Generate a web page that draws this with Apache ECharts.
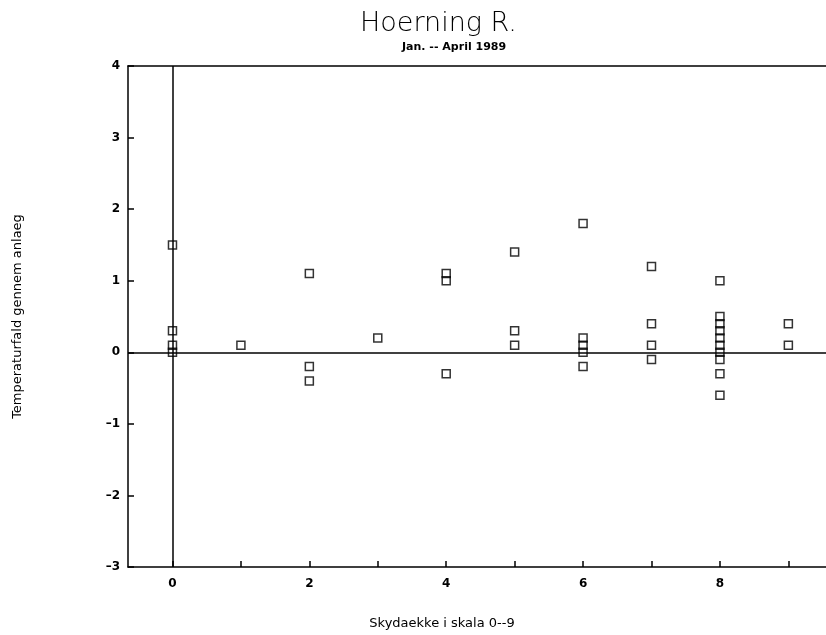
<!DOCTYPE html>
<html>
<head>
<meta charset="utf-8">
<script src="https://cdn.jsdelivr.net/npm/echarts@6/dist/echarts.min.js"></script>
<style>
  html, body { margin: 0; padding: 0; background: #fff; }
  #main { width: 826px; height: 635px; }
</style>
</head>
<body>
<div id="main"></div>
<script>
var myChart = echarts.init(document.getElementById('main'));

// cloud cover (0-9) and temperature drop per observation
var skydaekke = [0, 0, 0, 0, 1, 2, 2, 2, 3, 4, 4, 4, 5, 5, 5,
    6, 6, 6, 6, 6, 7, 7, 7, 7,
    8, 8, 8, 8, 8, 8, 8, 8, 8, 8, 9, 9];
var temperaturfald = [1.5, 0.3, 0.1, 0.0, 0.1, 1.1, -0.2, -0.4, 0.2, 1.1, 1.0, -0.3, 1.4, 0.3, 0.1,
    1.8, 0.2, 0.1, 0.0, -0.2, 1.2, 0.4, 0.1, -0.1,
    1.0, 0.5, 0.4, 0.3, 0.2, 0.1, 0.0, -0.1, -0.3, -0.6, 0.4, 0.1];

var xTicks = [0, 1, 2, 3, 4, 5, 6, 7, 8, 9];
var xLabels = [0, 2, 4, 6, 8];

var points = skydaekke.map(function (x, i) {
    return [x, temperaturfald[i]];
});

var labelFont = {
    color: '#000',
    fontFamily: 'DejaVu Sans',
    fontWeight: 'bold',
    fontSize: 12
};

option = {
    backgroundColor: '#fff',
    animation: false,
    title: [{
        text: 'Hoerning R.',
        left: 355,
        top: 5,
        textStyle: {
            fontFamily: 'DejaVu Sans',
            fontWeight: 'lighter',
            fontSize: 27,
            color: '#000'
        }
    }, {
        text: 'Jan. -- April 1989',
        left: 397,
        top: 37,
        textStyle: {
            fontFamily: 'DejaVu Sans',
            fontWeight: 'bold',
            fontSize: 11,
            color: '#000'
        }
    }],
    grid: {
        left: 128,
        right: 0,
        top: 66,
        bottom: 62
    },
    xAxis: [{
        type: 'value',
        min: -0.65,
        max: 9.55,
        name: 'Skydaekke i skala 0--9',
        nameLocation: 'middle',
        nameGap: 50,
        nameTextStyle: {
            color: '#000',
            fontFamily: 'DejaVu Sans',
            fontSize: 13,
            padding: [0, 70, 0, 0]
        },
        axisLine: { onZero: false, lineStyle: { color: '#000', width: 1.5 } },
        axisTick: {
            inside: true,
            length: 6,
            customValues: xTicks,
            lineStyle: { color: '#000', width: 1.5 }
        },
        axisLabel: Object.assign({ margin: 11, customValues: xLabels }, labelFont),
        splitLine: { show: false }
    }, {
        type: 'value',
        position: 'top',
        min: -0.65,
        max: 9.55,
        axisLine: { show: true, onZero: false, lineStyle: { color: '#000', width: 1.5 } },
        axisTick: { show: false },
        axisLabel: { show: false },
        splitLine: { show: false }
    }],
    yAxis: {
        type: 'value',
        min: -3,
        max: 4,
        interval: 1,
        name: 'Temperaturfald gennem anlaeg',
        nameLocation: 'middle',
        nameGap: 104,
        nameTextStyle: {
            color: '#000',
            fontFamily: 'DejaVu Sans',
            fontSize: 13
        },
        axisLine: { show: true, onZero: false, lineStyle: { color: '#000', width: 1.5 } },
        axisTick: { inside: true, length: 6, lineStyle: { color: '#000', width: 1.5 } },
        axisLabel: Object.assign({
            margin: 8,
            formatter: function (v) {
                return String(v).replace('-', '\u2013');
            }
        }, labelFont),
        splitLine: { show: false }
    },
    series: [{
        type: 'scatter',
        data: points,
        symbol: 'rect',
        symbolSize: 8,
        itemStyle: {
            color: 'rgba(0,0,0,0)',
            borderColor: '#000',
            borderWidth: 1.5
        },
        markLine: {
            silent: true,
            symbol: 'none',
            label: { show: false },
            lineStyle: { color: '#000', width: 1.5, type: 'solid' },
            data: [{ xAxis: 0 }, { yAxis: 0 }]
        }
    }]
};
myChart.setOption(option);
</script>
</body>
</html>
